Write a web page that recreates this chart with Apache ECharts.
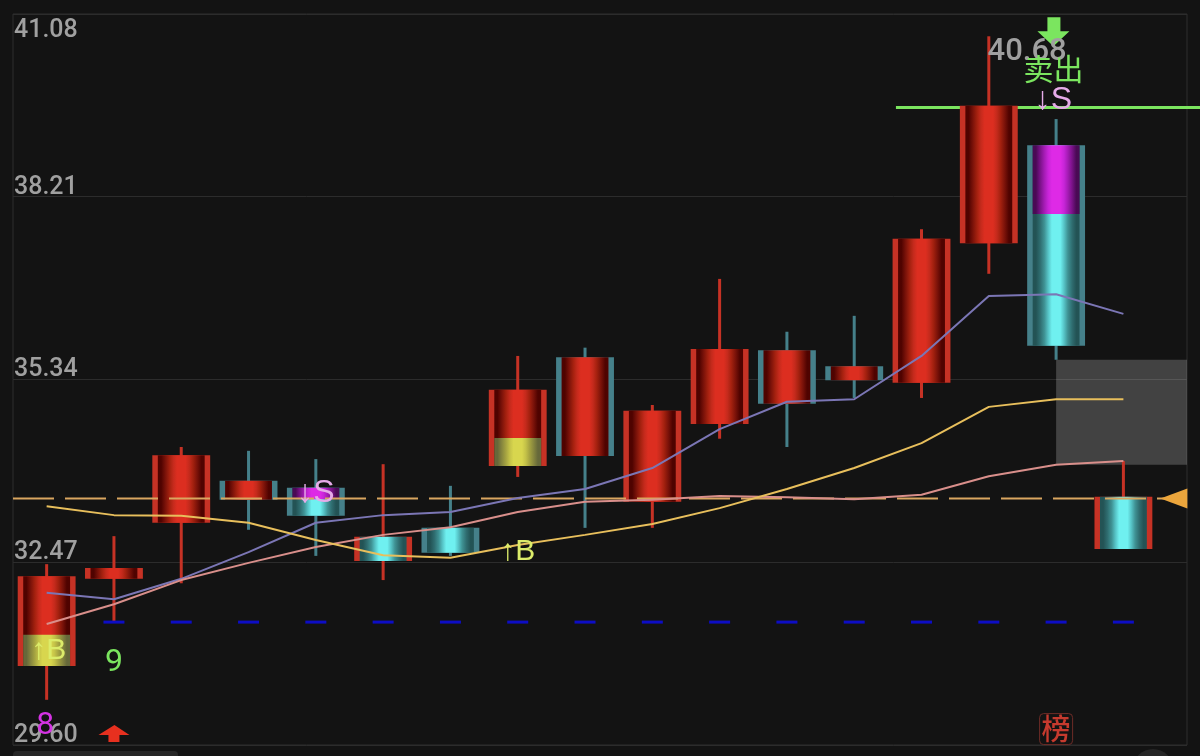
<!DOCTYPE html>
<html>
<head>
<meta charset="utf-8">
<style>
    html, body { margin: 0; padding: 0; background: #131313; }
    #kline { width: 1200px; height: 756px; }
</style>
<script src="https://cdn.jsdelivr.net/npm/echarts@6/dist/echarts.min.js"></script>
</head>
<body>
<div id="kline"></div>
<script>
// y axis
const tickValues = [29.60, 32.47, 35.34, 38.21, 41.08];

// candles, one entry per session
const bodyTops    = [32.25, 32.38, 34.15, 33.75, 33.64, 32.87, 33.01, 35.18, 35.69, 34.85, 35.82, 35.80, 35.55, 37.55, 39.64, 39.02, 33.50];
const bodyBottoms = [30.84, 32.21, 33.09, 33.45, 33.20, 32.49, 32.62, 33.98, 34.14, 33.42, 34.64, 34.96, 35.33, 35.29, 37.48, 35.87, 32.68];
const highs       = [32.44, 32.88, 34.28, 34.22, 34.09, 34.01, 33.67, 35.71, 35.84, 34.94, 36.92, 36.09, 36.34, 37.70, 40.73, 39.43, 34.06];
const lows        = [30.31, 31.53, 32.14, 32.98, 32.57, 32.19, 32.57, 33.81, 33.01, 33.01, 34.41, 34.28, 35.05, 35.05, 37.00, 35.65, 32.68];
const sideKinds   = ['red', 'red', 'red', 'teal', 'teal', 'red', 'teal', 'red', 'teal', 'red', 'red', 'teal', 'teal', 'red', 'red', 'teal', 'red'];
const fillKinds   = ['red', 'red', 'red', 'red', 'cyan', 'cyan', 'cyan', 'red', 'red', 'red', 'red', 'red', 'red', 'red', 'red', 'cyan', 'cyan'];
// coloured part of a body: [candle, kind, top, bottom]
const bodyAccents = [
    [0, 'yellow', 31.33, 30.84],
    [4, 'magenta', 33.64, 33.46],
    [7, 'yellow', 34.42, 33.98],
    [15, 'magenta', 39.02, 37.94]
];

// moving averages
const maPurple = [31.99, 31.89, 32.21, 32.63, 33.09, 33.21, 33.26, 33.48, 33.62, 33.95, 34.56, 34.99, 35.03, 35.71, 36.65, 36.68, 36.37];
const maPink   = [31.50, 31.81, 32.19, 32.46, 32.71, 32.90, 33.02, 33.26, 33.42, 33.45, 33.51, 33.49, 33.46, 33.53, 33.82, 34.00, 34.06];
const maYellow = [33.35, 33.21, 33.20, 33.09, 32.82, 32.58, 32.54, 32.74, 32.90, 33.07, 33.32, 33.62, 33.95, 34.34, 34.91, 35.03, 35.03];

// horizontal levels and zones
const xStart = -0.5;
const xEnd = 16.945;
const lastClose = 33.47;
const sellLevel = 39.61;
const sellLevelFrom = 12.62;
const sellLevelTo = 17.2;
const baseLevel = 31.53;
const grayZone = [15, 16.945, 35.65, 34.00];

// signals on the chart
const buyMarks = [[0.03, 31.08], [7, 32.64]];
const sellMarks = [[4, 33.56], [14.96, 39.72]];
const sellWordMark = [14.96, 40.22];
const highLabelMark = [14.57, 40.48];
const countNine = [1, 30.89];
const countEight = [-0.02, 29.90];
const listMark = [15, 29.85];
const upArrow = [1, 29.78];
const downArrow = [14.96, 40.8];
const pointerMark = [16.75, 33.47];

const sideColors = { red: '#c63225', teal: '#45808a' };
// colour bands from the edge of a body to its centre
const fillBands = {
    red: ['#4f0300', '#7a1209', '#a4210f', '#c42a1c', '#dc2e20'],
    cyan: ['#235355', '#2f6d70', '#3f9294', '#56c3c6', '#6ff0f0'],
    yellow: ['#66683a', '#86863e', '#a6a441', '#c4c248', '#d8d64e'],
    magenta: ['#4a0a55', '#7a1288', '#a51cb5', '#c725d8', '#de2ae6']
};

function bandGradient(kind) {
    let bands = fillBands[kind];
    let mid = [0.07, 0.16, 0.25, 0.33, 0.41];
    let stops = bands.map(function (color, i) {
        return { offset: mid[i], color: color };
    });
    for (let i = 4; i >= 0; i--) {
        stops.push({ offset: 1 - mid[i], color: bands[i] });
    }
    return { type: 'linear', x: 0, y: 0, x2: 1, y2: 0, colorStops: stops };
}

function renderCandle(params, api) {
    let i = params.dataIndex;
    let x = api.coord([i, 0])[0];
    let top = api.coord([i, bodyTops[i]])[1];
    let bottom = api.coord([i, bodyBottoms[i]])[1];
    let high = api.coord([i, highs[i]])[1];
    let low = api.coord([i, lows[i]])[1];
    let width = api.size([1, 0])[0] * 0.86;
    let strip = width * 0.095;
    let left = x - width / 2;
    let side = sideColors[sideKinds[i]];
    let children = [
        { type: 'rect', shape: { x: x - 1.5, y: high, width: 3, height: low - high }, style: { fill: side } },
        { type: 'rect', shape: { x: left, y: top, width: width, height: bottom - top }, style: { fill: side } },
        {
            type: 'rect',
            shape: { x: left + strip, y: top, width: width - strip * 2, height: bottom - top },
            style: { fill: bandGradient(fillKinds[i]) }
        }
    ];
    bodyAccents.forEach(function (a) {
        if (a[0] !== i) return;
        let y1 = api.coord([i, a[2]])[1];
        let y2 = api.coord([i, a[3]])[1];
        children.push({
            type: 'rect',
            shape: { x: left + strip, y: y1, width: width - strip * 2, height: y2 - y1 },
            style: { fill: bandGradient(a[1]) }
        });
    });
    return { type: 'group', children: children };
}

// the sell level runs on past the right edge of the grid, a line series would clip it
function renderSellLevel(params, api) {
    let from = api.coord([api.value(0), api.value(2)]);
    let to = api.coord([api.value(1), api.value(2)]);
    return {
        type: 'line',
        shape: { x1: from[0], y1: from[1], x2: to[0], y2: to[1] },
        style: { stroke: '#7be55f', lineWidth: 3 }
    };
}

function lineSeries(values, color) {
    return {
        type: 'line',
        data: values.map(function (v, i) { return [i, v]; }),
        showSymbol: false,
        silent: true,
        z: 4,
        lineStyle: { color: color, width: 2 }
    };
}

function textSeries(points, text, color, size, extra) {
    return {
        type: 'scatter',
        data: points,
        symbolSize: 1,
        silent: true,
        z: 8,
        itemStyle: { color: 'transparent', opacity: 1 },
        label: Object.assign({
            show: true,
            position: 'inside',
            formatter: text,
            color: color,
            fontSize: size,
            fontFamily: 'Roboto, "Noto Sans CJK SC", sans-serif'
        }, extra || {})
    };
}

function arrowSeries(point, path, size, color) {
    return {
        type: 'scatter',
        data: [point],
        symbol: path,
        symbolSize: size,
        silent: true,
        z: 6,
        itemStyle: { color: color, opacity: 1 }
    };
}

function baseSpots() {
    return bodyTops.slice(1).map(function (v, i) { return [i + 1, baseLevel]; });
}

let chart = echarts.init(document.getElementById('kline'), null, { renderer: 'canvas' });
chart.setOption({
    animation: false,
    backgroundColor: '#131313',
    grid: {
        show: true,
        left: 13,
        right: 13,
        top: 14,
        bottom: 11,
        borderColor: '#2e2e2e',
        borderWidth: 1
    },
    xAxis: { type: 'value', min: xStart, max: xEnd, show: false },
    yAxis: {
        type: 'value',
        min: tickValues[0],
        max: tickValues[4],
        axisLine: { show: false },
        axisTick: { show: false, customValues: tickValues },
        splitLine: { show: true, lineStyle: { color: '#2c2c2c', width: 1 } },
        axisLabel: {
            inside: true,
            customValues: tickValues,
            margin: 1,
            color: '#a0a0a0',
            fontSize: 25,
            fontWeight: 500,
            lineHeight: 19,
            padding: [7, 0, 0, 0],
            fontFamily: 'Roboto, sans-serif',
            verticalAlign: 'bottom',
            verticalAlignMaxLabel: 'top',
            formatter: function (v) { return v.toFixed(2); }
        }
    },
    graphic: [
        { type: 'rect', shape: { x: 13, y: 751, width: 165, height: 12, r: 4 }, style: { fill: '#262626' }, silent: true },
        { type: 'circle', shape: { cx: 1153, cy: 769, r: 20 }, style: { fill: '#262626' }, silent: true }
    ],
    series: [
        {
            type: 'custom',
            renderItem: renderSellLevel,
            data: [[sellLevelFrom, sellLevelTo, sellLevel]],
            encode: { x: [0, 1], y: 2 },
            silent: true,
            z: 1
        },
        {
            type: 'custom',
            renderItem: renderCandle,
            data: bodyTops.map(function (v, i) { return [i, v, bodyBottoms[i], highs[i], lows[i]]; }),
            encode: { x: 0, y: [1, 2, 3, 4] },
            silent: true,
            z: 2
        },
        {
            type: 'line',
            data: [[xStart, lastClose], [xEnd, lastClose]],
            showSymbol: false,
            silent: true,
            z: 3,
            lineStyle: { color: '#d9a660', width: 2, type: [41, 11] },
            markArea: {
                silent: true,
                itemStyle: { color: 'rgba(255,255,255,0.2)' },
                data: [[
                    { xAxis: grayZone[0], yAxis: grayZone[2] },
                    { xAxis: grayZone[1], yAxis: grayZone[3] }
                ]]
            }
        },
        lineSeries(maPurple, '#7b76b5'),
        lineSeries(maPink, '#d98f8b'),
        lineSeries(maYellow, '#e8bf5c'),
        {
            type: 'scatter',
            data: baseSpots(),
            symbol: 'rect',
            symbolSize: [21, 3],
            silent: true,
            z: 5,
            itemStyle: { color: '#0d0dc4', opacity: 1 }
        },
        {
            type: 'scatter',
            data: [pointerMark],
            symbol: 'triangle',
            symbolRotate: 90,
            symbolSize: [20, 27],
            silent: true,
            z: 6,
            itemStyle: { color: '#eca63c', opacity: 1 }
        },
        arrowSeries(downArrow, 'path://M10 0H23V14H32L16 29L0 14H10Z', [32, 29], '#7be55f'),
        arrowSeries(upArrow, 'path://M16 0L31 10H21V17H10V10H0Z', [31, 17], '#e7301f'),
        textSeries([highLabelMark], '40.68', '#a0a0a0', 31, { fontWeight: 500 }),
        textSeries([sellWordMark], '卖出', '#7be55f', 30, { fontFamily: '"Noto Sans CJK SC", sans-serif' }),
        textSeries(sellMarks, '↓S', '#e6abe9', 32, { fontFamily: '"Liberation Sans", sans-serif' }),
        textSeries(buyMarks, '↑B', '#dcec6a', 30, { fontFamily: '"Liberation Sans", sans-serif' }),
        textSeries([countNine], '9', '#7be55f', 32),
        textSeries([countEight], '8', '#d433e3', 32),
        textSeries([listMark], '榜', '#c63a2e', 29, {
            fontFamily: '"Noto Sans CJK SC", sans-serif',
            fontWeight: 500,
            borderColor: '#6e2c27',
            borderWidth: 1,
            borderRadius: 4,
            padding: [1, 2, 1, 2]
        })
    ]
});
</script>
</body>
</html>
